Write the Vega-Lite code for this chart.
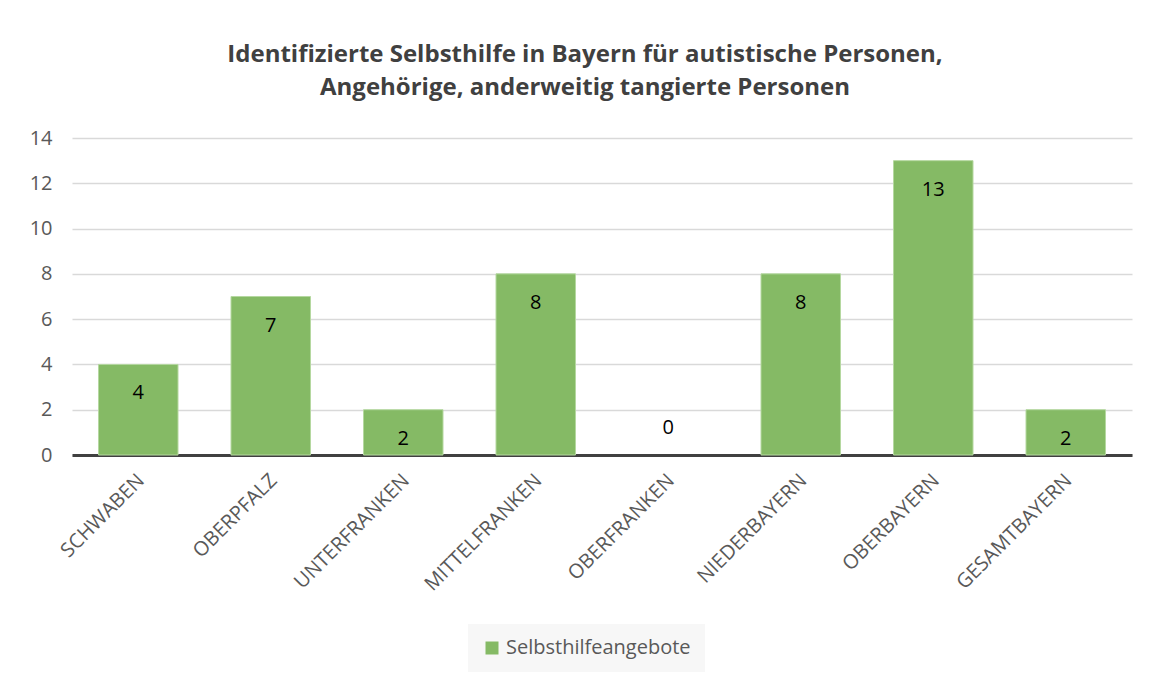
{
  "$schema": "https://vega.github.io/schema/vega-lite/v6.json",
  "width": 1060,
  "height": 317,
  "autosize": "none",
  "padding": {"left": 72, "top": 138, "right": 17, "bottom": 222},
  "background": "white",
  "config": {"view": {"stroke": null}},
  "title": {
    "text": ["Identifizierte Selbsthilfe in Bayern für autistische Personen,", "Angehörige, anderweitig tangierte Personen"],
    "font": "Open Sans",
    "fontSize": 24,
    "fontWeight": "bold",
    "color": "#404040",
    "anchor": "middle",
    "frame": "group",
    "dx": -17,
    "offset": 28,
    "lineHeight": 33
  },
  "data": {
    "values": [
      {"region": "SCHWABEN", "wert": 4, "serie": "Selbsthilfeangebote"},
      {"region": "OBERPFALZ", "wert": 7, "serie": "Selbsthilfeangebote"},
      {"region": "UNTERFRANKEN", "wert": 2, "serie": "Selbsthilfeangebote"},
      {"region": "MITTELFRANKEN", "wert": 8, "serie": "Selbsthilfeangebote"},
      {"region": "OBERFRANKEN", "wert": 0, "serie": "Selbsthilfeangebote"},
      {"region": "NIEDERBAYERN", "wert": 8, "serie": "Selbsthilfeangebote"},
      {"region": "OBERBAYERN", "wert": 13, "serie": "Selbsthilfeangebote"},
      {"region": "GESAMTBAYERN", "wert": 2, "serie": "Selbsthilfeangebote"}
    ]
  },
  "encoding": {
    "x": {
      "field": "region",
      "type": "nominal",
      "sort": null,
      "scale": {
        "domain": ["SCHWABEN", "OBERPFALZ", "UNTERFRANKEN", "MITTELFRANKEN", "OBERFRANKEN", "NIEDERBAYERN", "OBERBAYERN", "GESAMTBAYERN"],
        "paddingInner": 0.4,
        "paddingOuter": 0.2
      },
      "axis": {
        "title": null,
        "labelAngle": -45,
        "labelAlign": "right",
        "labelBaseline": "middle",
        "labelFont": "Open Sans",
        "labelFontSize": 20,
        "labelColor": "#595959",
        "labelPadding": 22,
        "labelOffset": 3,
        "ticks": false,
        "domainColor": "#404040",
        "domainWidth": 3,
        "grid": false
      }
    },
    "y": {
      "field": "wert",
      "type": "quantitative",
      "scale": {"domain": [0, 14], "nice": false},
      "axis": {
        "title": null,
        "values": [0, 2, 4, 6, 8, 10, 12, 14],
        "labelFont": "Open Sans",
        "labelFontSize": 20,
        "labelColor": "#595959",
        "labelPadding": 20,
        "ticks": false,
        "domain": false,
        "gridColor": "#d9d9d9",
        "gridWidth": 1.5
      }
    }
  },
  "layer": [
    {
      "transform": [{"filter": "datum.wert > 0"}],
      "mark": {"type": "bar", "stroke": "#b5d8a0", "strokeWidth": 1},
      "encoding": {
        "color": {
          "field": "serie",
          "type": "nominal",
          "scale": {"range": ["#85ba65"]},
          "legend": {
            "title": null,
            "orient": "none",
            "legendX": 396,
            "legendY": 486,
            "direction": "horizontal",
            "symbolType": "square",
            "symbolSize": 169,
            "symbolStrokeWidth": 0,
            "labelFont": "Open Sans",
            "labelFontSize": 20,
            "labelLimit": 400,
            "labelColor": "#595959",
            "fillColor": "#f7f7f7",
            "padding": 14
          }
        }
      }
    },
    {
      "transform": [{"filter": "datum.wert > 0"}],
      "mark": {"type": "text", "dy": 29, "font": "Open Sans", "fontSize": 20, "color": "#000000"},
      "encoding": {"text": {"field": "wert", "type": "quantitative"}}
    },
    {
      "transform": [{"filter": "datum.wert == 0"}],
      "mark": {"type": "text", "dy": -27, "font": "Open Sans", "fontSize": 20, "color": "#000000"},
      "encoding": {"text": {"field": "wert", "type": "quantitative"}}
    }
  ]
}
